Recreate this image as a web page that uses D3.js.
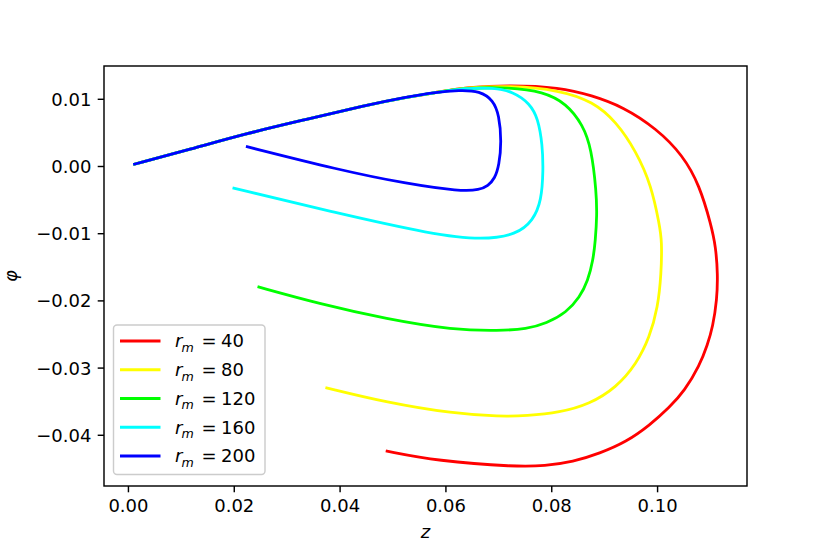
<!DOCTYPE html>
<html>
<head>
<meta charset="utf-8">
<script src="https://cdn.jsdelivr.net/npm/d3@7"></script>
<style>
  html, body { margin: 0; padding: 0; background: #fff; }
  svg { display: block; font-family: "DejaVu Sans", sans-serif; }
</style>
</head>
<body>
<svg id="chart" width="830" height="554"></svg>
<script>
// ---------- data ----------
const seriesLabels = ["40", "80", "120", "160", "200"];
const seriesColors = ["#ff0000", "#ffff00", "#00ff00", "#00ffff", "#0000ff"];

const z40 = [0.0010, 0.01211, 0.02217, 0.03349, 0.04481, 0.05268, 0.05896, 0.06400, 0.07217, 0.08160, 0.08764, 0.09355, 0.09985, 0.10487, 0.10802, 0.11023, 0.11108, 0.11147, 0.11132, 0.11053, 0.10953, 0.10802, 0.10519, 0.10236, 0.09858, 0.09419, 0.08915, 0.08411, 0.07877, 0.07343, 0.05834, 0.04872];
const phi40 = [0.00022, 0.00256, 0.00480, 0.00689, 0.00902, 0.01025, 0.01103, 0.01170, 0.01204, 0.01170, 0.01051, 0.00882, 0.00559, 0.00161, -0.00286, -0.00882, -0.01200, -0.01607, -0.01990, -0.02392, -0.02660, -0.02973, -0.03346, -0.03592, -0.03860, -0.04106, -0.04277, -0.04404, -0.04463, -0.04478, -0.04389, -0.04240];

const z80 = [0.0010, 0.01211, 0.02217, 0.03349, 0.04481, 0.05268, 0.05896, 0.06400, 0.07217, 0.08160, 0.08789, 0.09230, 0.09608, 0.09891, 0.10047, 0.10091, 0.10079, 0.10015, 0.09858, 0.09608, 0.09230, 0.08726, 0.08160, 0.07532, 0.07028, 0.06147, 0.04891, 0.03732];
const phi80 = [0.00022, 0.00256, 0.00480, 0.00689, 0.00902, 0.01025, 0.01103, 0.01170, 0.01195, 0.01130, 0.00957, 0.00659, 0.00212, -0.00286, -0.00882, -0.01110, -0.01607, -0.02104, -0.02551, -0.02948, -0.03297, -0.03544, -0.03669, -0.03718, -0.03729, -0.03684, -0.03520, -0.03297];

const z120 = [0.0010, 0.01211, 0.02217, 0.03349, 0.04481, 0.05268, 0.05896, 0.06400, 0.07217, 0.07845, 0.08287, 0.08600, 0.08758, 0.08853, 0.08864, 0.08834, 0.08789, 0.08694, 0.08538, 0.08287, 0.07909, 0.07532, 0.07028, 0.06147, 0.04891, 0.03632, 0.02449];
const phi120 = [0.00022, 0.00256, 0.00480, 0.00689, 0.00902, 0.01025, 0.01103, 0.01162, 0.01170, 0.01106, 0.00931, 0.00608, 0.00261, -0.00385, -0.00738, -0.01110, -0.01408, -0.01706, -0.01955, -0.02179, -0.02343, -0.02426, -0.02452, -0.02441, -0.02277, -0.02054, -0.01796];

const z160 = [0.0010, 0.01211, 0.02217, 0.03349, 0.04481, 0.05268, 0.05896, 0.06400, 0.06902, 0.07279, 0.07594, 0.07751, 0.07834, 0.07849, 0.07815, 0.07657, 0.07343, 0.06713, 0.05770, 0.03883, 0.01977];
const phi160 = [0.00022, 0.00256, 0.00480, 0.00689, 0.00902, 0.01025, 0.01103, 0.01159, 0.01165, 0.01106, 0.00931, 0.00708, 0.00310, -0.00067, -0.00514, -0.00812, -0.01021, -0.01100, -0.01021, -0.00689, -0.00325];

const z200 = [0.0010, 0.01211, 0.02217, 0.03349, 0.04481, 0.05268, 0.05770, 0.06274, 0.06651, 0.06902, 0.07015, 0.07060, 0.07015, 0.06934, 0.06802, 0.06651, 0.06274, 0.05268, 0.03977, 0.02230];
const phi200 = [0.00022, 0.00256, 0.00480, 0.00689, 0.00902, 0.01025, 0.01095, 0.01130, 0.01115, 0.00981, 0.00757, 0.00361, 0.00012, -0.00186, -0.00298, -0.00355, -0.00376, -0.00265, -0.00057, 0.00291];

const xTicks = [0.00, 0.02, 0.04, 0.06, 0.08, 0.10];
const xTickLabels = ["0.00", "0.02", "0.04", "0.06", "0.08", "0.10"];
const yTicks = [0.01, 0.00, -0.01, -0.02, -0.03, -0.04];
const yTickLabels = ["0.01", "0.00", "\u22120.01", "\u22120.02", "\u22120.03", "\u22120.04"];

// ---------- layout ----------
const W = 830, H = 554;
const m = { left: 104, right: 747, top: 66, bottom: 486 };
const FS = 18;

const zs = [z40, z80, z120, z160, z200];
const phis = [phi40, phi80, phi120, phi160, phi200];
const series = zs.map((zArr, i) => ({
  label: seriesLabels[i],
  color: seriesColors[i],
  pts: zArr.map((z, j) => [z, phis[i][j]])
}));

// matplotlib-like 5% margins
const allZ = zs.flat(), allP = phis.flat();
const zMin = d3.min(allZ), zMax = d3.max(allZ);
const pMin = d3.min(allP), pMax = d3.max(allP);
const zPad = (zMax - zMin) * 0.05, pPad = (pMax - pMin) * 0.05;

const x = d3.scaleLinear().domain([zMin - zPad, zMax + zPad]).range([m.left, m.right]);
const y = d3.scaleLinear().domain([pMin - pPad, pMax + pPad]).range([m.bottom, m.top]);

const svg = d3.select("#chart");
svg.append("rect").attr("width", W).attr("height", H).attr("fill", "#fff");

svg.append("clipPath").attr("id", "clip")
  .append("rect").attr("x", m.left).attr("y", m.top)
  .attr("width", m.right - m.left).attr("height", m.bottom - m.top);

// curves
const line = d3.line().x(d => x(d[0])).y(d => y(d[1])).curve(d3.curveBasis);
svg.append("g").attr("clip-path", "url(#clip)")
  .selectAll("path").data(series).join("path")
  .attr("d", d => line(d.pts))
  .attr("fill", "none")
  .attr("stroke", d => d.color)
  .attr("stroke-width", 2.8)
  .attr("stroke-linecap", "butt")
  .attr("stroke-linejoin", "round");

// axes
const xAxis = d3.axisBottom(x).tickValues(xTicks)
  .tickFormat((d, i) => xTickLabels[i]).tickSize(6.3).tickPadding(6.3);
const yAxis = d3.axisLeft(y).tickValues(yTicks)
  .tickFormat((d, i) => yTickLabels[i]).tickSize(6.3).tickPadding(6.3);

const gx = svg.append("g").attr("transform", `translate(0,${m.bottom})`).call(xAxis);
const gy = svg.append("g").attr("transform", `translate(${m.left},0)`).call(yAxis);
[gx, gy].forEach(g => {
  g.select(".domain").remove();
  g.selectAll(".tick line").attr("stroke", "#000").attr("stroke-width", 1.44);
  g.selectAll(".tick text").attr("fill", "#000")
    .attr("font-family", "DejaVu Sans").attr("font-size", FS);
});
gx.selectAll(".tick text").attr("dy", "0.73em");
gy.selectAll(".tick text").attr("dy", "0.36em");

// frame
svg.append("rect")
  .attr("x", m.left).attr("y", m.top)
  .attr("width", m.right - m.left).attr("height", m.bottom - m.top)
  .attr("fill", "none").attr("stroke", "#000").attr("stroke-width", 1.44);

// axis labels
svg.append("text")
  .attr("x", (m.left + m.right) / 2).attr("y", 538)
  .attr("text-anchor", "middle").attr("font-size", FS)
  .attr("font-style", "italic").text("z");
svg.append("text")
  .attr("transform", `translate(17,${(m.top + m.bottom) / 2}) rotate(-90)`)
  .attr("text-anchor", "middle").attr("font-size", FS)
  .attr("font-style", "italic").text("\u03c6");

// legend
const lg = svg.append("g");
lg.append("rect")
  .attr("x", 113.5).attr("y", 325).attr("width", 151.5).attr("height", 149.5)
  .attr("rx", 3.5).attr("fill", "#fff").attr("fill-opacity", 0.8)
  .attr("stroke", "#cccccc").attr("stroke-width", 1.44);
const rowY = d3.scaleLinear().domain([0, 4]).range([341, 456]);
series.forEach((s, i) => {
  const yy = rowY(i);
  lg.append("line").attr("x1", 120).attr("x2", 160.5).attr("y1", yy).attr("y2", yy)
    .attr("stroke", s.color).attr("stroke-width", 2.8);
  const t = lg.append("text").attr("font-size", FS).attr("fill", "#000");
  t.append("tspan").attr("x", 175).attr("y", yy + 6.3).attr("font-style", "italic").text("r");
  t.append("tspan").attr("x", 181.5).attr("y", yy + 10.8).attr("font-style", "italic")
    .attr("font-size", 12.6).text("m");
  t.append("tspan").attr("x", 201.5).attr("y", yy + 6.3).text("=");
  t.append("tspan").attr("x", 221).attr("y", yy + 6.3).text(s.label);
});
</script>
</body>
</html>
